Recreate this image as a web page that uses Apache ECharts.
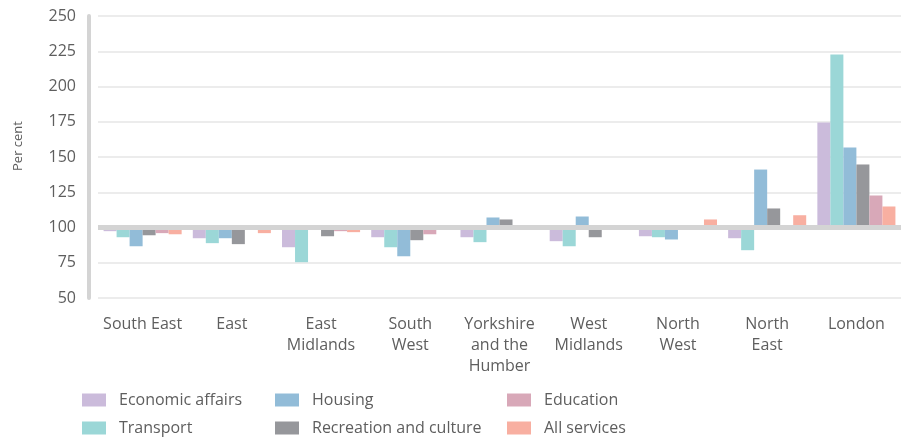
<!DOCTYPE html>
<html><head><meta charset="utf-8">
<script src="https://cdn.jsdelivr.net/npm/echarts@6/dist/echarts.min.js"></script>
<style>html,body{margin:0;padding:0;background:#fff}#c{width:901px;height:440px}</style>
</head><body><div id="c"></div>
<script>
const categories = ['South East','East','East\nMidlands','South\nWest','Yorkshire\nand the\nHumber','West\nMidlands','North\nWest','North\nEast','London'];
const economicAffairs = [97.4, 92.4, 86, 93.1, 93.1, 90.3, 93.8, 92.4, 174.5];
const transport = [93.1, 88.9, 75.4, 86, 89.6, 86.7, 93.1, 83.9, 222.7];
const housing = [86.7, 92.4, 100, 79.6, 107.1, 107.8, 91.5, 141.1, 156.7];
const recreation = [94.5, 88.2, 93.8, 91, 105.7, 93.1, 100, 113.5, 144.7];
const education = [96, 99.5, 97.4, 95.2, 100, 100, 100, 100, 122.7];
const allServices = [95.2, 96, 96.7, 100, 100, 100, 105.7, 108.7, 114.9];
const baseline = 100;
const yMin = 50, yMax = 250, yStep = 25;

const seriesDefs = [
  ['Economic affairs', economicAffairs, '#cbbbdb'],
  ['Transport', transport, '#9bd7d7'],
  ['Housing', housing, '#92bcd8'],
  ['Recreation and culture', recreation, '#96979b'],
  ['Education', education, '#d8a8b8'],
  ['All services', allServices, '#f8afa1']
];
const FONT = 'Open Sans';
const TXT = '#5e5e5e';

const series = seriesDefs.map(([name, vals, color], i) => ({
  name, type: 'bar', data: vals.map(v => +(v - baseline).toFixed(2)),
  itemStyle: { color }, barGap: 0, barCategoryGap: '12.5%',
  markLine: i === 0 ? {
    silent: true, symbol: 'none', label: { show: false },
    lineStyle: { color: '#d4d4d4', width: 5, type: 'solid' },
    data: [{ yAxis: 0 }], z: 10
  } : undefined
}));

// legend layout: column x positions and row centres
const legendCols = [82, 275, 507];
const legendRows = [400, 428];
const legends = seriesDefs.map(([name], i) => ({
  data: [name], left: legendCols[Math.floor(i / 2)], top: legendRows[i % 2] - 11,
  padding: 0, itemWidth: 24, itemHeight: 13, icon: 'rect',
  textStyle: { fontFamily: FONT, fontSize: 16, color: TXT, padding: [0, 0, 0, 8], lineHeight: 22 }
}));

const chart = echarts.init(document.getElementById('c'));
chart.setOption({
  animation: false,
  grid: { left: 98, right: 0, top: 16, bottom: 142 },
  legend: legends,
  graphic: [{
    type: 'text', x: 18, y: 146, rotation: Math.PI / 2,
    style: { text: 'Per cent', fontFamily: FONT, fontSize: 13, fill: TXT, align: 'center', verticalAlign: 'middle' }
  }],
  xAxis: {
    type: 'category', data: categories,
    axisLine: { show: false }, axisTick: { show: false },
    axisLabel: { fontFamily: FONT, fontSize: 16, color: TXT, margin: 16, lineHeight: 21, interval: 0 }
  },
  yAxis: {
    type: 'value', min: yMin - baseline, max: yMax - baseline, interval: yStep,
    offset: 9,
    axisLine: { show: true, lineStyle: { color: '#d4d4d4', width: 4, cap: 'round' } },
    axisTick: { show: false },
    axisLabel: { fontFamily: FONT, fontSize: 16, color: TXT, margin: 13, formatter: v => String(v + baseline) },
    splitLine: { lineStyle: { color: '#ececec', width: 2 } }
  },
  series
});
</script></body></html>
